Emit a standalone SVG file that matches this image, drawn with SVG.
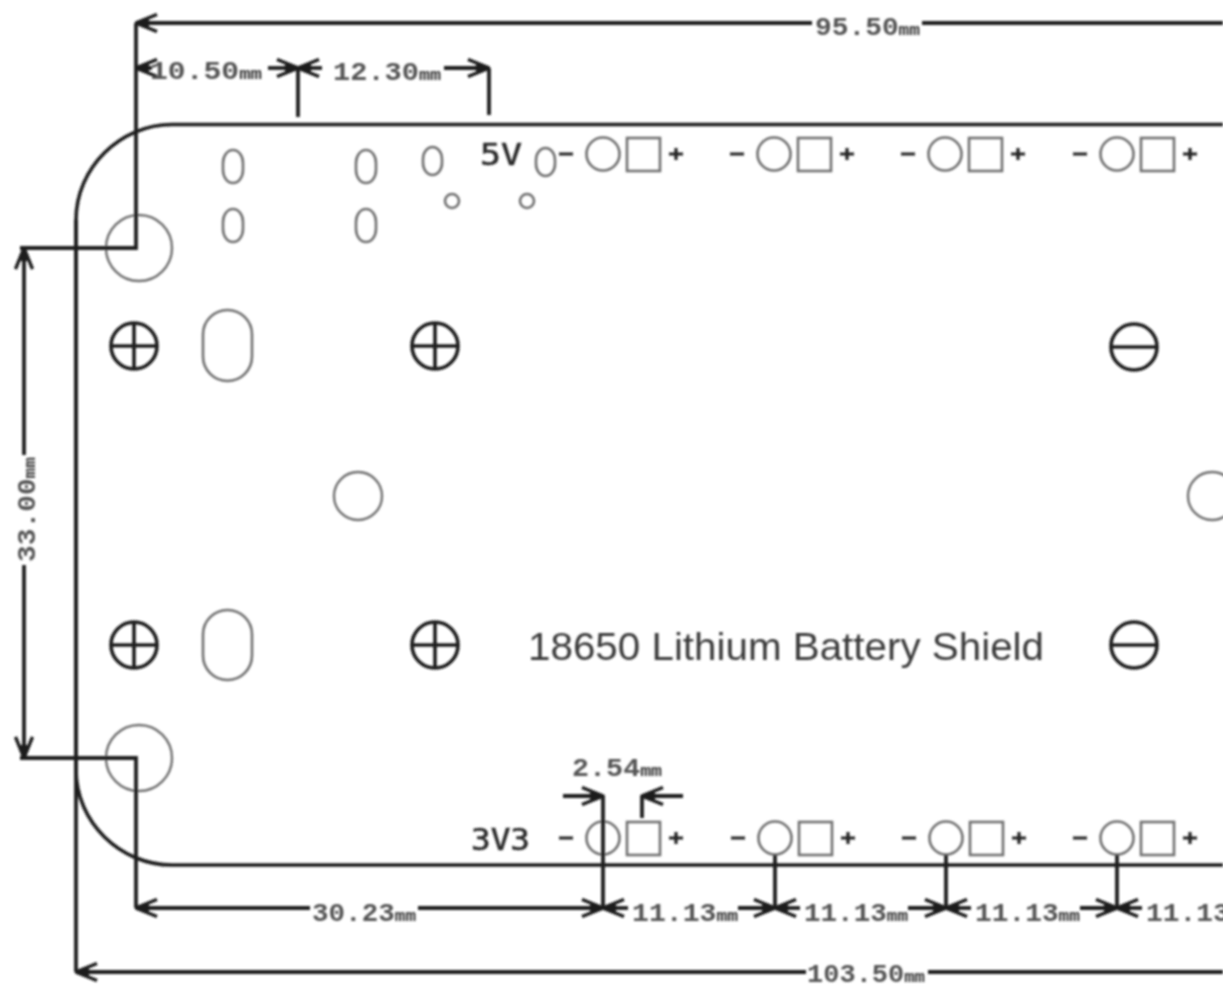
<svg xmlns="http://www.w3.org/2000/svg" width="1223" height="986" viewBox="0 0 1223 986">
<style>
.dim{fill:none;stroke:#1c1c1c;stroke-width:3.8}
.thin{fill:none;stroke:#707070;stroke-width:2.4}
.sym{fill:none;stroke:#1c1c1c;stroke-width:3.6}
.pin{fill:none;stroke:#707070;stroke-width:2.6}
.sign{fill:none;stroke:#222;stroke-width:3.2}
.dt{font-family:"Liberation Mono","DejaVu Sans Mono",monospace;font-size:25px;font-weight:bold;fill:#555}
.dm{font-size:16px;fill:#333}
.lb{font-family:"DejaVu Sans Mono","Liberation Mono",monospace;font-size:31px;fill:#2a2a2a;stroke:#2a2a2a;stroke-width:.6}
.ttl{font-family:"Liberation Sans",Arial,sans-serif;font-size:39px;fill:#3a3a3a}
</style>
<defs>
<filter id="b" x="-2%" y="-2%" width="104%" height="104%"><feGaussianBlur stdDeviation="0.9"/></filter>
<marker id="a" viewBox="0 0 24 20" refX="23" refY="10" markerWidth="24" markerHeight="20" markerUnits="userSpaceOnUse" orient="auto-start-reverse"><path d="M2 1.500L23 10L2 18.500" fill="none" stroke="#1c1c1c" stroke-width="3.4"/><path d="M9 10L11 5L23 10L11 15Z" fill="#1c1c1c"/></marker>
<g id="pad"><circle cx="0" cy="0" r="16.500" class="pin"/><rect x="24" y="-16" width="33" height="33" class="pin"/><path d="M-44 0H-30M66 0H80M73 -6V6" class="sign"/></g>
<g id="plus"><circle r="23" class="sym"/><path d="M-23 0H23M0 -23V23" class="sym"/></g>
<g id="minus"><circle r="23" class="sym"/><path d="M-23 0H23" class="sym"/></g>
</defs>
<rect width="1223" height="986" fill="#fff"/>
<g filter="url(#b)">
<g id="board"><path d="M1223 124.500H172C120 124.500 76 168 76 220V770C76 822 120 865 172 865H1223" fill="none" stroke="#1c1c1c" stroke-width="3.6"/></g>
<g id="holes" class="thin">
<circle cx="139" cy="248" r="33"/><circle cx="139" cy="758" r="33"/>
<circle cx="358" cy="496" r="24"/><circle cx="1212" cy="496" r="24"/>
</g>
<g id="slots" class="pin">
<rect x="223" y="150" width="20" height="33" rx="10" ry="13"/><rect x="223" y="209" width="20" height="33" rx="10" ry="13"/>
<rect x="356" y="150" width="20" height="33" rx="10" ry="13"/><rect x="356" y="209" width="20" height="33" rx="10" ry="13"/>
<rect x="423" y="147" width="19" height="28" rx="9.500" ry="12"/><rect x="536" y="148" width="19" height="28" rx="9.500" ry="12"/>
<circle cx="452" cy="201" r="7"/><circle cx="527" cy="201" r="7"/>
<rect x="203" y="310" width="49" height="71" rx="24.500"/><rect x="203" y="610" width="49" height="70" rx="24.500"/>
</g>
<g id="terminal-plus-1"><use href="#plus" x="134" y="346"/></g>
<g id="terminal-plus-2"><use href="#plus" x="435" y="346"/></g>
<g id="terminal-plus-3"><use href="#plus" x="134" y="645"/></g>
<g id="terminal-plus-4"><use href="#plus" x="435" y="645"/></g>
<g id="terminal-minus-1"><use href="#minus" x="1134" y="347"/></g>
<g id="terminal-minus-2"><use href="#minus" x="1134" y="645"/></g>
<g id="pads-top"><use href="#pad" x="603" y="154"/><use href="#pad" x="774" y="154"/><use href="#pad" x="945" y="154"/><use href="#pad" x="1117" y="154"/></g>
<g id="pads-bottom"><use href="#pad" x="603" y="838"/><use href="#pad" x="775" y="838"/><use href="#pad" x="946" y="838"/><use href="#pad" x="1117" y="838"/></g>
<g id="labels">
<text class="ttl" x="528" y="660" textLength="516" lengthAdjust="spacingAndGlyphs">18650 Lithium Battery Shield</text>
<text class="lb" x="480" y="165" textLength="42" lengthAdjust="spacingAndGlyphs">5V</text>
<text class="lb" x="471" y="850" textLength="59" lengthAdjust="spacingAndGlyphs">3V3</text>
</g>
<g id="connectors" class="dim">
<path d="M136 23V248H20"/>
<path d="M20 758H136V908"/>
<path d="M76 220V972"/>
<path d="M298 68V117M489 68V115"/>
<path d="M603 795V908M775 855V908M946 855V908M1117 855V908"/>
<path d="M642 795V818"/>
<path d="M812 23H136" marker-end="url(#a)"/><path d="M922 23H1223"/>
<path d="M24 455V248" marker-end="url(#a)"/><path d="M24 565V758" marker-end="url(#a)"/>
<path d="M310 908H136" marker-end="url(#a)"/><path d="M418 908H603" marker-end="url(#a)"/>
<path d="M806 972H76" marker-end="url(#a)"/><path d="M928 972H1223"/>
<path d="M152 68H136" marker-end="url(#a)"/><path d="M268 68H298" marker-end="url(#a)"/>
<path d="M322 68H298" marker-end="url(#a)"/><path d="M444 68H489" marker-end="url(#a)"/>
<path d="M563 796H603" marker-end="url(#a)"/><path d="M683 796H642" marker-end="url(#a)"/>
<path d="M628 908H603" marker-end="url(#a)"/><path d="M738 908H775" marker-end="url(#a)"/>
<path d="M800 908H775" marker-end="url(#a)"/><path d="M908 908H946" marker-end="url(#a)"/>
<path d="M971 908H946" marker-end="url(#a)"/><path d="M1080 908H1117" marker-end="url(#a)"/>
<path d="M1142 908H1117" marker-end="url(#a)"/>
</g>
<g id="dimension-labels">
<text class="dt" x="815" y="35" textLength="105" lengthAdjust="spacingAndGlyphs">95.50<tspan class="dm">mm</tspan></text>
<text class="dt" x="150" y="79" textLength="112" lengthAdjust="spacingAndGlyphs">10.50<tspan class="dm">mm</tspan></text>
<text class="dt" x="333" y="80" textLength="108" lengthAdjust="spacingAndGlyphs">12.30<tspan class="dm">mm</tspan></text>
<text class="dt" transform="translate(35 562) rotate(-90)" textLength="105" lengthAdjust="spacingAndGlyphs">33.00<tspan class="dm">mm</tspan></text>
<text class="dt" x="312" y="921" textLength="104" lengthAdjust="spacingAndGlyphs">30.23<tspan class="dm">mm</tspan></text>
<text class="dt" x="572" y="776" textLength="90" lengthAdjust="spacingAndGlyphs">2.54<tspan class="dm">mm</tspan></text>
<text class="dt" x="632" y="921" textLength="106" lengthAdjust="spacingAndGlyphs">11.13<tspan class="dm">mm</tspan></text>
<text class="dt" x="804" y="921" textLength="104" lengthAdjust="spacingAndGlyphs">11.13<tspan class="dm">mm</tspan></text>
<text class="dt" x="975" y="921" textLength="105" lengthAdjust="spacingAndGlyphs">11.13<tspan class="dm">mm</tspan></text>
<text class="dt" x="1146" y="921" textLength="105" lengthAdjust="spacingAndGlyphs">11.13<tspan class="dm">mm</tspan></text>
<text class="dt" x="807" y="982" textLength="118" lengthAdjust="spacingAndGlyphs">103.50<tspan class="dm">mm</tspan></text>
</g>
</g>
</svg>
